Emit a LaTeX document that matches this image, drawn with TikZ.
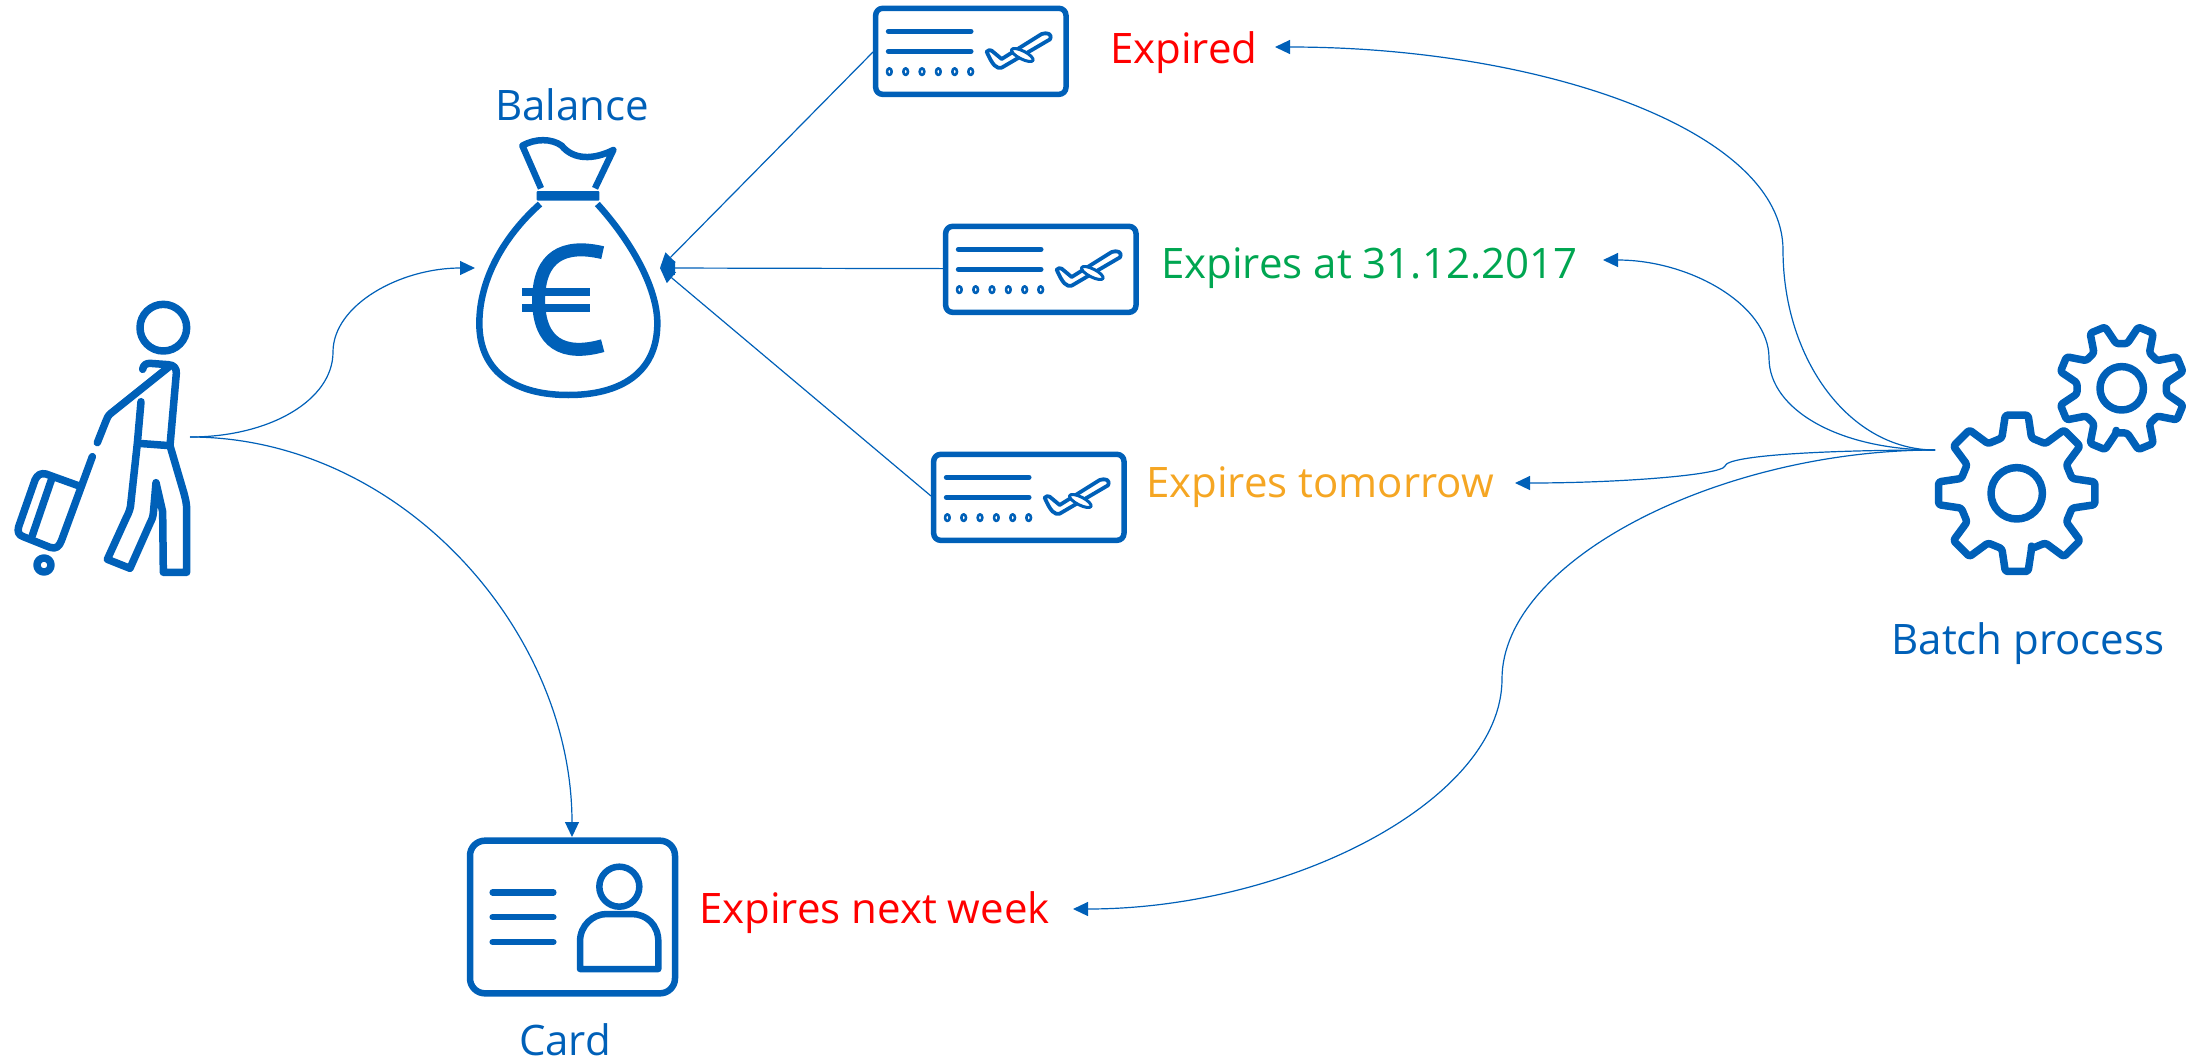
\documentclass[tikz,border=0pt]{standalone}
\usepackage{fontspec}
\setmainfont{Open Sans}
\usetikzlibrary{arrows.meta}
\definecolor{iconblue}{HTML}{0060B8}
\definecolor{expred}{HTML}{FF0000}
\definecolor{expgreen}{HTML}{00A651}
\definecolor{exporange}{HTML}{F5A623}
\newcommand{\mygear}[9]{%
  \begin{scope}[shift={(#1,#2)}]
    \draw[icon,line width=7.5pt,rounded corners=2.5pt] ({#3-#7}:#6)
      \foreach \i in {0,...,7} { -- ({#3+45*\i-#7}:#6) -- ({#3+45*\i-#5}:#4) -- ({#3+45*\i+#5}:#4) -- ({#3+45*\i+#7}:#6) } -- cycle;
    \draw[icon,line width=7.5pt] (0,0) circle (#8);
  \end{scope}}
\tikzset{
  icon/.style={draw=iconblue,line width=6pt,line cap=round,line join=round},
  link/.style={draw=iconblue,line width=1.2pt,-{Triangle[length=15pt,width=14pt]}},
  lab/.style={font=\fontsize{42}{50}\selectfont,inner sep=0pt,anchor=base west},
  labc/.style={font=\fontsize{42}{50}\selectfont,inner sep=0pt,anchor=base,text=iconblue},
  ticketicon/.pic={
    \begin{scope}[scale=1/3]
      \draw[icon,line width=5.5pt,rounded corners=7pt] (47,25) rectangle (618,283);
      \draw[icon,line width=5pt] (85,94) -- (333,94);
      \draw[icon,line width=5pt] (85,154) -- (333,154);
      \foreach \cx in {88,137,186,235,284,332}
        \draw[icon,line width=2.6pt] (\cx,215) ellipse (7 and 10);
      \draw[icon,line width=3.8pt] (380,155) .. controls (385,150) and (390,149) .. (395,152) -- (425,177) -- (545,102) .. controls (560,97) and (578,100) .. (570,118) -- (425,203) .. controls (410,207) and (398,197) .. cycle;
      \draw[icon,line width=3pt,fill=white,rotate around={-27:(487,165)}] (487,165) ellipse (36 and 12);
    \end{scope}
  }
}
\begin{document}
\begin{tikzpicture}[x=1pt,y=-1pt]
\useasboundingbox (0,0) rectangle (2205,1061);
% traveller
\begin{scope}[shift={(0,280)},scale=1/3]
  \draw[icon,line width=7.5pt] (490,143) circle (70);
  \draw[icon,line width=7.5pt] (428,268) .. controls (430,255) and (438,250) .. (450,250) -- (505,254) .. controls (522,255) and (530,265) .. (529,280) -- (510,497) -- (552,640) .. controls (557,660) and (560,670) .. (560,690) -- (560,877) -- (490,877) -- (488,695) -- (468,608) -- (460,700) .. controls (458,715) and (455,720) .. (450,730) -- (390,865) -- (322,838) -- (378,715) .. controls (388,695) and (392,685) .. (393,665) -- (412,490) -- (423,365);
  \draw[icon,line width=7.5pt] (415,490) -- (510,497);
  \draw[icon,line width=7.5pt] (505,262) -- (335,398) .. controls (325,405) and (320,415) .. (317,425) -- (292,488);
  \draw[icon,line width=7.5pt] (277,530) -- (185,780) .. controls (178,800) and (168,808) .. (150,802) -- (70,770) .. controls (55,765) and (52,755) .. (56,740) -- (105,600) .. controls (112,585) and (122,578) .. (138,582) -- (235,617);
  \draw[icon,line width=7.5pt] (155,597) -- (95,772);
  \draw[icon,line width=7.5pt] (132,855) circle (21);
\end{scope}
% money bag
\begin{scope}[shift={(460,80)},scale=1/3]
  \draw[icon,line width=6.5pt,line cap=butt] (243,325) -- (187,197) .. controls (225,175) and (275,175) .. (305,197) .. controls (340,240) and (400,240) .. (460,210) -- (405,325);
  \fill[iconblue,rounded corners=1pt] (230,333) rectangle (418,362);
  \draw[icon,line width=6.5pt,line cap=butt] (240,372) .. controls (130,470) and (58,600) .. (58,730) .. controls (58,880) and (170,945) .. (325,945) .. controls (480,945) and (592,880) .. (592,730) .. controls (592,620) and (510,480) .. (412,372);
  \draw[icon,line width=13pt,line cap=butt] (428,518) .. controls (310,490) and (236,530) .. (236,660) .. controls (236,790) and (310,830) .. (428,797);
  \fill[iconblue] (185,625) rectangle (390,649);
  \fill[iconblue] (185,671) rectangle (390,695);
\end{scope}
% tickets
\pic at (860,0) {ticketicon};
\pic at (930,218) {ticketicon};
\pic at (918,446) {ticketicon};
% card
\begin{scope}[shift={(450,820)},scale=1/3]
  \draw[icon,line width=6.5pt,rounded corners=15pt] (60,62) rectangle (675,520);
  \foreach \ly in {217,291,366}
    \draw[icon,line width=6.5pt] (128,\ly) -- (310,\ly);
  \draw[icon,line width=6.5pt] (508,200) circle (60);
  \draw[icon,line width=6.5pt] (390,447) -- (390,365) .. controls (390,315) and (430,282) .. (470,282) -- (545,282) .. controls (590,282) and (625,315) .. (625,365) -- (625,447) -- cycle;
\end{scope}
% gears
\mygear{2016.7}{493.3}{90}{79}{8.3}{57.3}{15}{25.7}{}
\mygear{2121.7}{388.3}{112.5}{63.5}{7.3}{45}{15.5}{21.7}{}
% labels
\node[labc] (balance) at (572,120) {Balance};
\node[labc] (cardlab) at (565,1055) {Card};
\node[labc] (batch) at (2028,654) {Batch process};
\node[lab,text=expred] (expired) at (1110,63) {Expired};
\node[lab,text=expgreen] (exp2017) at (1161,278) {Expires at 31.12.2017};
\node[lab,text=exporange] (exptom) at (1146,497) {Expires tomorrow};
\node[lab,text=expred] (expweek) at (699,923) {Expires next week};
% connector ends
\coordinate (pers) at (190,437);
\coordinate (bagl) at (475,268);
\coordinate (bagr) at (660,268);
\coordinate (cardtop) at (572,837);
\coordinate (t1) at (873,52);
\coordinate (t2) at (943,268.6);
\coordinate (t3) at (931,496);
\coordinate (gear) at (1935,450);
\coordinate (eexp) at (1275,47);
\coordinate (e17) at (1603,260);
\coordinate (etom) at (1515,483);
\coordinate (ewk) at (1073,909);
% connectors
\draw[link] (pers) .. controls (270,437) and (333,400) .. (333,352) .. controls (333,305) and (400,268) .. (bagl);
\draw[link] (pers) .. controls (400,437) and (572,630) .. (cardtop);
\draw[link] (t1) -- (bagr);
\draw[link] (t2) -- (bagr);
\draw[link] (t3) -- (bagr);
\draw[link] (gear) .. controls (1850,450) and (1783,360) .. (1783,250) .. controls (1783,130) and (1540,47) .. (eexp);
\draw[link] (gear) .. controls (1840,450) and (1769,410) .. (1769,358) .. controls (1769,305) and (1690,260) .. (e17);
\draw[link] (gear) .. controls (1830,450) and (1727,455) .. (1725,466) .. controls (1722,475) and (1620,483) .. (etom);
\draw[link] (gear) .. controls (1720,450) and (1502,560) .. (1502,679) .. controls (1502,800) and (1290,909) .. (ewk);
\end{tikzpicture}
\end{document}
